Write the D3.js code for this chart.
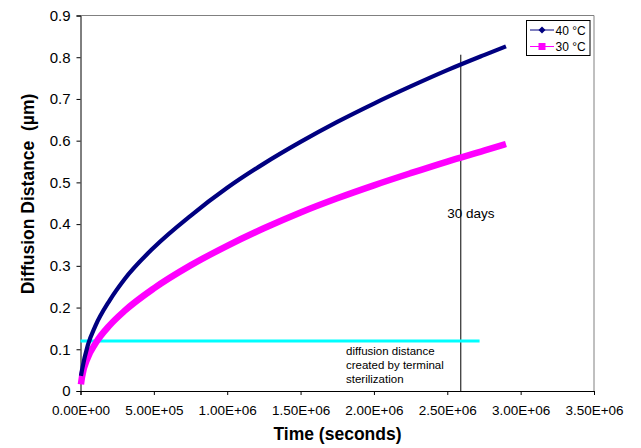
<!DOCTYPE html>
<html><head><meta charset="utf-8">
<script src="https://cdn.jsdelivr.net/npm/d3@7"></script>
<style>body{margin:0;background:#fff}svg{display:block}text{font-family:"Liberation Sans",Arial,sans-serif}</style>
</head><body>
<svg id="c" width="641" height="448"></svg>
<script>
const times = [3e3, 1e4, 5e4, 1e5, 2e5, 3e5, 5e5, 7.5e5, 1e6, 1.25e6, 1.5e6, 1.75e6, 2e6, 2.25e6, 2.5e6, 2.75e6, 2.9e6];
const series40 = [0.036, 0.05, 0.11, 0.155, 0.218, 0.268, 0.344, 0.42, 0.487, 0.545, 0.597, 0.645, 0.689, 0.73, 0.769, 0.805, 0.826];
const series30 = [0.016, 0.033, 0.08, 0.113, 0.158, 0.192, 0.246, 0.301, 0.348, 0.39, 0.428, 0.462, 0.493, 0.522, 0.55, 0.576, 0.592];
const xTicks = [0, 5e5, 1e6, 1.5e6, 2e6, 2.5e6, 3e6, 3.5e6];
const yTicks = [0, 0.1, 0.2, 0.3, 0.4, 0.5, 0.6, 0.7, 0.8, 0.9];
const sterilLevel = 0.12, sterilEnd = 2.72e6;
const day30 = 2.592e6, day30Top = 0.806;

const svg = d3.select("#c");
const L = 80.5, R = 594, T = 15.5, B = 391;
const x = d3.scaleLinear().domain([0, 3.5e6]).range([L, R]);
const y = d3.scaleLinear().domain([0, 0.9]).range([B, T]);

// frame
svg.append("path").attr("d", `M${L},${T}H${R}V${B}`).attr("fill","none").attr("stroke","#808080").attr("stroke-width",1);

// axes
const fmt = d => d3.format(".2e")(d).replace(/e([+-])(\d)$/, "E$10$2").replace("e","E");
const xa = svg.append("g").attr("transform",`translate(0,${B})`)
  .call(d3.axisBottom(x).tickValues(xTicks).tickSize(4).tickFormat(fmt));
const ya = svg.append("g").attr("transform",`translate(${L},0)`)
  .call(d3.axisLeft(y).tickValues(yTicks).tickSize(4).tickFormat(d3.format("")));
[xa, ya].forEach(g => { g.select(".domain").attr("stroke","#000"); g.selectAll(".tick line").attr("stroke","#000"); });
xa.selectAll("text").attr("font-size", 13.5).attr("fill","#000").attr("y", 24).attr("dy", 0).attr("x", 0);
ya.selectAll("text").attr("font-size", 15).attr("fill","#000").attr("x",-10);

// axis titles
svg.append("text").attr("x", 337.5).attr("y", 440).attr("text-anchor","middle")
  .attr("font-size", 17.5).attr("font-weight","bold").text("Time (seconds)");
svg.append("text").attr("transform", `translate(33.5,194) rotate(-90)`).attr("text-anchor","middle")
  .attr("font-size", 17.5).attr("font-weight","bold").attr("xml:space","preserve").text("Diffusion Distance  (µm)");

// 30 day line
svg.append("line").attr("x1", x(day30)).attr("x2", x(day30)).attr("y1", y(day30Top)).attr("y2", y(0))
  .attr("stroke","#000").attr("stroke-width",1);
svg.append("text").attr("x", x(day30)-13.5).attr("y", 218).attr("font-size", 13.5).text("30 days");

// sterilization line
svg.append("line").attr("x1", x(0)).attr("x2", x(sterilEnd)).attr("y1", y(sterilLevel)).attr("y2", y(sterilLevel))
  .attr("stroke","#00FFFF").attr("stroke-width",3);
const st = svg.append("text").attr("font-size", 11.5).attr("fill","#000");
["diffusion distance","created by terminal","sterilization"].forEach((s,i)=>
  st.append("tspan").attr("x", 346).attr("y", 355 + i*14).text(s));

// series
const line = d3.line().x(d=>x(d[0])).y(d=>y(d[1])).curve(d3.curveMonotoneX);
svg.append("path").datum(times.map((t,i)=>[t, series30[i]])).attr("d", line)
  .attr("fill","none").attr("stroke","#FF00FF").attr("stroke-width",6.5);
svg.append("path").datum(times.map((t,i)=>[t, series40[i]])).attr("d", line)
  .attr("fill","none").attr("stroke","#000080").attr("stroke-width",4.2);

// legend
const lg = svg.append("g");
lg.append("rect").attr("x",526.5).attr("y",20.5).attr("width",63.5).attr("height",35).attr("fill","#fff").attr("stroke","#000").attr("stroke-width",1);
const leg = [{name:"40 °C", c:"#000080", m:"diamond"}, {name:"30 °C", c:"#FF00FF", m:"square"}];
leg.forEach((d,i)=>{
  const yy = 30 + i*16.5;
  lg.append("line").attr("x1",530).attr("x2",554).attr("y1",yy).attr("y2",yy).attr("stroke",d.c).attr("stroke-width",1);
  if (d.m==="diamond") lg.append("path").attr("d",`M542,${yy-3.5}L545.5,${yy}L542,${yy+3.5}L538.5,${yy}Z`).attr("fill",d.c);
  else lg.append("rect").attr("x",538.5).attr("y",yy-3.5).attr("width",7).attr("height",7).attr("fill",d.c);
  lg.append("text").attr("x",555.5).attr("y",yy+4.5).attr("font-size",12).text(d.name);
});
</script>
</body></html>
